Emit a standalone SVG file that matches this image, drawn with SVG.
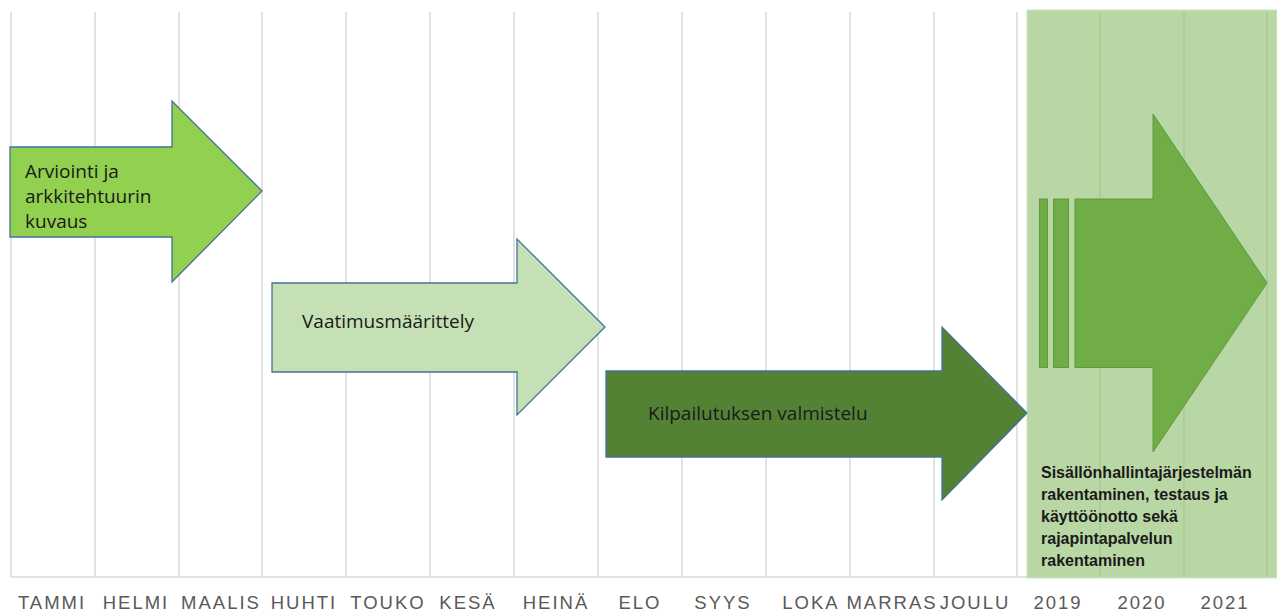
<svg xmlns="http://www.w3.org/2000/svg" width="1277" height="613" viewBox="0 0 1277 613">
<style>
.grid{stroke:#d9d9d9;stroke-width:1.5}
.ggrid{stroke:#a5c78e;stroke-width:1.2}
.arrow{stroke:#41719c;stroke-width:1.3}
.lbl{font-family:"Open Sans","Liberation Sans",sans-serif;font-size:19px;fill:#1a1a1a}
.ax{font-family:"Liberation Sans",Arial,sans-serif;font-size:18.5px;fill:#595959;letter-spacing:2px;text-anchor:middle}
.bold{font-family:"Liberation Sans",Arial,sans-serif;font-size:16px;font-weight:bold;fill:#1a1a1a}
</style>
<rect width="1277" height="613" fill="#ffffff"/>
<g id="grid">
<rect x="1027" y="10" width="250" height="568" fill="#b9d7a4" stroke="#cfe3c1" stroke-width="1"/>
<g class="grid">
<line x1="11" y1="12" x2="11" y2="577"/>
<line x1="95" y1="12" x2="95" y2="577"/>
<line x1="179" y1="12" x2="179" y2="577"/>
<line x1="262" y1="12" x2="262" y2="577"/>
<line x1="346" y1="12" x2="346" y2="577"/>
<line x1="430" y1="12" x2="430" y2="577"/>
<line x1="514" y1="12" x2="514" y2="577"/>
<line x1="598" y1="12" x2="598" y2="577"/>
<line x1="682" y1="12" x2="682" y2="577"/>
<line x1="766" y1="12" x2="766" y2="577"/>
<line x1="850" y1="12" x2="850" y2="577"/>
<line x1="934" y1="12" x2="934" y2="577"/>
<line x1="1017" y1="12" x2="1017" y2="577"/>
<line x1="11" y1="577" x2="1027" y2="577"/>
</g>
<g class="ggrid">
<line x1="1100" y1="12" x2="1100" y2="577"/>
<line x1="1184" y1="12" x2="1184" y2="577"/>
<line x1="1267" y1="12" x2="1267" y2="577"/>
</g>
</g>
<g id="node-arviointi">
<polygon class="arrow" fill="#92d050" points="10,147 172,147 172,101 262,191 172,282 172,237 10,237"/>
<text class="lbl" x="25" y="178">Arviointi ja</text>
<text class="lbl" x="25" y="203">arkkitehtuurin</text>
<text class="lbl" x="25" y="228">kuvaus</text>
</g>
<g id="node-vaatimus">
<polygon class="arrow" fill="#c5e0b4" points="272,283 517,283 517,239 605,327 517,415 517,372 272,372"/>
<text class="lbl" x="302" y="328">Vaatimusmäärittely</text>
</g>
<g id="node-kilpailutus">
<polygon class="arrow" fill="#548235" points="606,371 942,371 942,327 1027,413 942,500 942,457 606,457"/>
<text class="lbl" x="648" y="420">Kilpailutuksen valmistelu</text>
</g>
<g id="node-rakentaminen">
<g fill="#70ad47" stroke="#5f9a3c" stroke-width="1">
<rect x="1039.5" y="199" width="8" height="168.5"/>
<rect x="1053.5" y="199" width="15" height="168.5"/>
<polygon points="1075,199 1153,199 1153,114 1267,283 1153,452 1153,367.5 1075,367.5"/>
</g>
<text class="bold" x="1041" y="478">Sisällönhallintajärjestelmän</text>
<text class="bold" x="1041" y="500">rakentaminen, testaus ja</text>
<text class="bold" x="1041" y="522">käyttöönotto sekä</text>
<text class="bold" x="1041" y="544">rajapintapalvelun</text>
<text class="bold" x="1041" y="566">rakentaminen</text>
</g>
<g id="connectors"></g>
<g id="axis">
<text class="ax" x="52" y="609">TAMMI</text>
<text class="ax" x="136" y="609">HELMI</text>
<text class="ax" x="221" y="609">MAALIS</text>
<text class="ax" x="304" y="609">HUHTI</text>
<text class="ax" x="388" y="609">TOUKO</text>
<text class="ax" x="468" y="609">KESÄ</text>
<text class="ax" x="556" y="609">HEINÄ</text>
<text class="ax" x="640" y="609">ELO</text>
<text class="ax" x="723" y="609">SYYS</text>
<text class="ax" x="811" y="609">LOKA</text>
<text class="ax" x="892" y="609">MARRAS</text>
<text class="ax" x="975" y="609">JOULU</text>
<text class="ax" x="1058" y="609">2019</text>
<text class="ax" x="1142" y="609">2020</text>
<text class="ax" x="1225" y="609">2021</text>
</g>
</svg>
